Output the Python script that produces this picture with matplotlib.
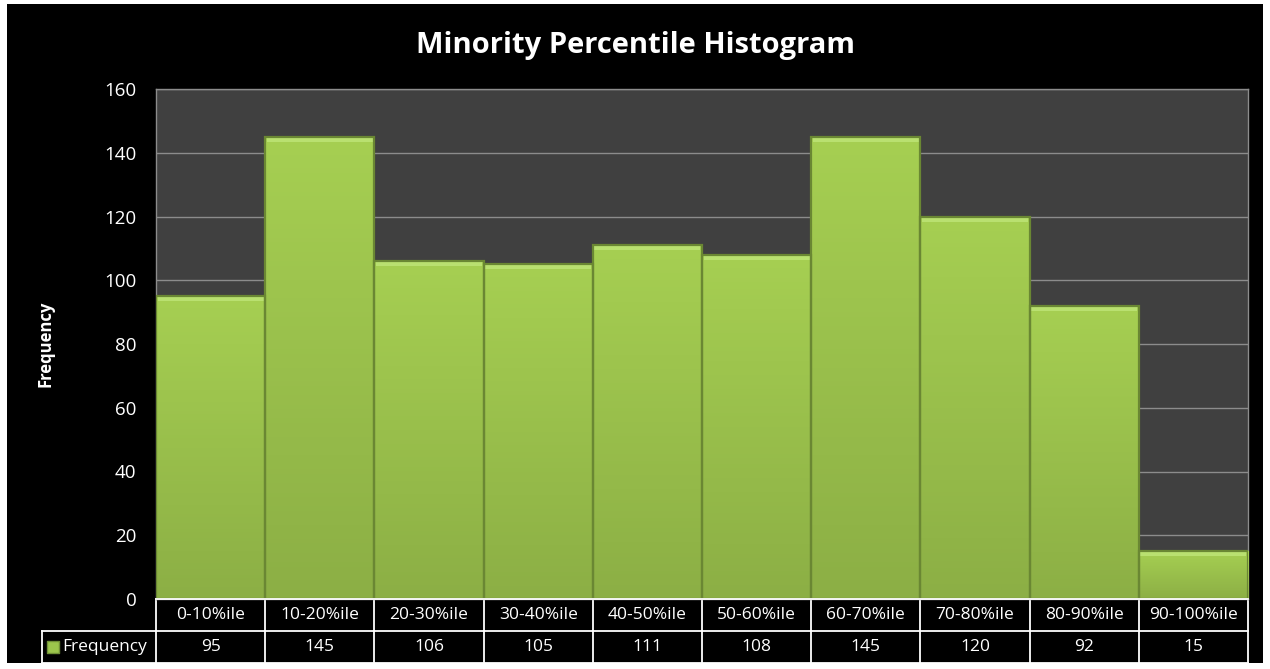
import matplotlib.pyplot as plt
import numpy as np
from matplotlib.colors import LinearSegmentedColormap

categories = ['0-10%ile', '10-20%ile', '20-30%ile', '30-40%ile', '40-50%ile',
              '50-60%ile', '60-70%ile', '70-80%ile', '80-90%ile', '90-100%ile']
frequency = [95, 145, 106, 105, 111, 108, 145, 120, 92, 15]
y_ticks = [0, 20, 40, 60, 80, 100, 120, 140, 160]

plt.rcParams['font.family'] = ['Open Sans', 'DejaVu Sans']

fig = plt.figure(figsize=(12.7, 6.69), dpi=100)
fig.patch.set_facecolor('white')
# black chart area inside a thin white frame
bg = fig.add_axes([7 / 1270, 6 / 669, 1256 / 1270, 659 / 669])
bg.set_facecolor('black')
bg.set_xticks([])
bg.set_yticks([])
for s in bg.spines.values():
    s.set_visible(False)

ax = fig.add_axes([156 / 1270, 1 - 599 / 669, 1092 / 1270, 510 / 669])
ax.set_facecolor('#404040')
x = np.arange(len(categories))
bars = ax.bar(x, frequency, width=1.0, color='#9cc64c', linewidth=0, zorder=3)

# vertical gradient + bevelled top on each bar
grad = LinearSegmentedColormap.from_list('g', ['#8caf45', '#a6cf52'])
for b in bars:
    x0, w, h = b.get_x(), b.get_width(), b.get_height()
    im = ax.imshow(np.linspace(0, 1, 100).reshape(-1, 1), cmap=grad, aspect='auto',
                   origin='lower', extent=[x0, x0 + w, 0, h], zorder=3.5)
    im.set_clip_path(b)
    ax.bar(x0 + w / 2, 1.6, bottom=h - 1.6, width=w * 0.97, color='#b9e070',
           linewidth=0, zorder=4)
ax.bar(x, frequency, width=1.0, fill=False, edgecolor='#6a8733', linewidth=1.6, zorder=5)

ax.set_xlim(-0.5, len(categories) - 0.5)
ax.set_ylim(0, 160)
ax.set_yticks(y_ticks)
ax.set_xticks([])
ax.tick_params(axis='y', colors='white', labelsize=13.5, length=0, pad=14)
ax.yaxis.grid(True, color='#8c8c8c', linewidth=1.0, zorder=1)
for s in ax.spines.values():
    s.set_color('#8c8c8c')
    s.set_linewidth(1.0)
ax.set_ylabel('Frequency', color='white', fontsize=12, fontweight='bold', labelpad=36)

fig.text(0.5, 1 - 45 / 669, 'Minority Percentile Histogram', color='white',
         fontsize=21, fontweight='bold', ha='center', va='center')

# data table beneath the axis
r1 = -32 / 510
r2 = -64 / 510
left = -114 / 1092
tr = ax.transAxes
lw = 1.3
ax.plot([0, 1], [0, 0], color='white', lw=lw, transform=tr, clip_on=False, zorder=6)
ax.plot([left, 1], [r1, r1], color='white', lw=lw, transform=tr, clip_on=False)
ax.plot([left, 1], [r2, r2], color='white', lw=lw, transform=tr, clip_on=False)
ax.plot([left, left], [r1, r2], color='white', lw=lw, transform=tr, clip_on=False)
n = len(categories)
for i in range(n + 1):
    ax.plot([i / n, i / n], [0, r2], color='white', lw=lw, transform=tr, clip_on=False)
for i, (c, v) in enumerate(zip(categories, frequency)):
    xc = (i + 0.5) / n
    ax.text(xc, r1 / 2, c, color='white', fontsize=12.5, ha='center', va='center', transform=tr)
    ax.text(xc, (r1 + r2) / 2, str(v), color='white', fontsize=12.5, ha='center',
            va='center', transform=tr)
ax.text(left + 20 / 1092, (r1 + r2) / 2, 'Frequency', color='white', fontsize=12.5,
        ha='left', va='center', transform=tr)
ax.scatter([left + 11 / 1092], [(r1 + r2) / 2], marker='s', s=70, color='#9cc64c',
           edgecolor='#6f8f35', transform=tr, clip_on=False, zorder=7)

fig.savefig('out.png', dpi=100, facecolor=fig.get_facecolor())
